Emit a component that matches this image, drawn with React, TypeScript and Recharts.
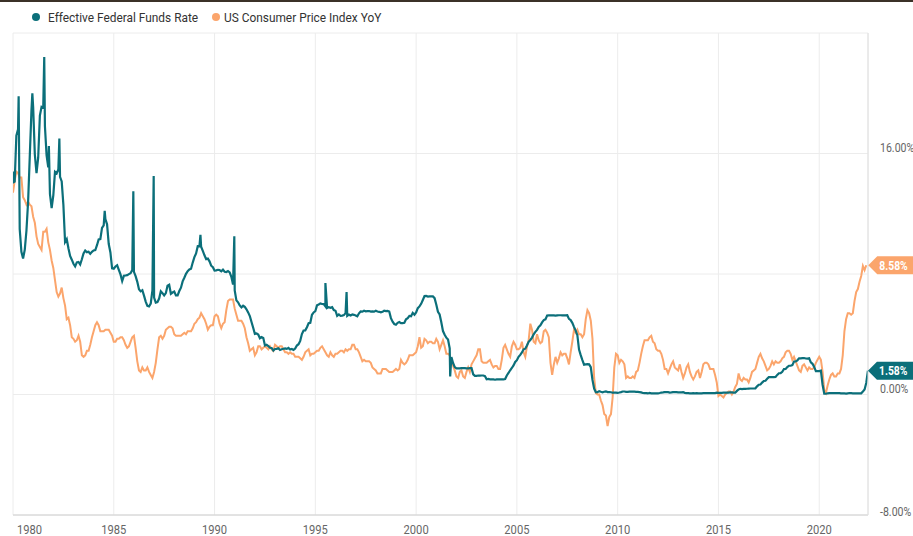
import React from 'react';
import { LineChart, Line, XAxis, YAxis, CartesianGrid } from 'recharts';

// Monthly effective federal funds rate (%), Jan 1980 .. Jun 2022
const fedFunds80s = [
  14.8, 14.13, 17.19, 17.61, 10.98, 9.47, 9.03, 9.61, 10.87, 12.81, 15.85, 18.9,
  19.08, 15.93, 14.7, 15.72, 18.52, 19.1, 19.04, 17.82, 15.87, 15.08, 13.31, 12.37,
  13.22, 14.78, 14.68, 14.94, 14.45, 14.15, 12.59, 10.12, 10.31, 9.71, 9.2, 8.95,
  8.68, 8.51, 8.77, 8.8, 8.63, 8.98, 9.37, 9.56, 9.45, 9.48, 9.34, 9.47,
  9.56, 9.59, 9.91, 10.29, 10.32, 11.06, 11.23, 11.64, 11.3, 9.99, 9.43, 8.38,
  8.35, 8.5, 8.58, 8.27, 7.97, 7.53, 7.88, 7.9, 7.92, 7.99, 8.05, 8.27,
  8.14, 7.86, 7.48, 6.99, 6.85, 6.92, 6.56, 6.17, 5.89, 5.85, 6.04, 6.91,
  6.43, 6.1, 6.13, 6.37, 6.85, 6.73, 6.58, 6.73, 7.22, 7.29, 6.69, 6.77,
  6.83, 6.58, 6.58, 6.87, 7.09, 7.51, 7.75, 8.01, 8.19, 8.3, 8.35, 8.76,
  9.12, 9.36, 9.85, 9.84, 9.81, 9.53, 9.24, 8.99, 9.02, 8.84, 8.55, 8.45,
];
const fedFunds90s = [
  8.23, 8.24, 8.28, 8.26, 8.18, 8.29, 8.15, 8.13, 8.2, 8.11, 7.81, 7.31,
  6.91, 6.25, 6.12, 5.91, 5.78, 5.9, 5.82, 5.66, 5.45, 5.21, 4.81, 4.43,
  4.03, 4.06, 3.98, 3.73, 3.82, 3.76, 3.25, 3.3, 3.22, 3.1, 3.09, 2.92,
  3.02, 3.03, 3.07, 2.96, 3.0, 3.04, 3.06, 3.03, 3.09, 2.99, 3.02, 2.96,
  3.05, 3.25, 3.34, 3.56, 4.01, 4.25, 4.26, 4.47, 4.73, 4.76, 5.29, 5.45,
  5.53, 5.92, 5.98, 6.05, 6.01, 6.0, 5.85, 5.74, 5.8, 5.76, 5.8, 5.6,
  5.56, 5.22, 5.31, 5.22, 5.24, 5.27, 5.4, 5.22, 5.3, 5.24, 5.31, 5.29,
  5.25, 5.19, 5.39, 5.51, 5.5, 5.56, 5.52, 5.54, 5.54, 5.5, 5.52, 5.5,
  5.56, 5.51, 5.49, 5.45, 5.49, 5.56, 5.54, 5.55, 5.51, 5.07, 4.83, 4.68,
  4.63, 4.76, 4.81, 4.74, 4.74, 4.76, 4.99, 5.07, 5.22, 5.2, 5.42, 5.3,
];
const fedFunds00s = [
  5.45, 5.73, 5.85, 6.02, 6.27, 6.53, 6.54, 6.5, 6.52, 6.51, 6.51, 6.4,
  5.98, 5.49, 5.31, 4.8, 4.21, 3.97, 3.77, 3.65, 3.07, 2.49, 2.09, 1.82,
  1.73, 1.74, 1.73, 1.75, 1.75, 1.75, 1.73, 1.74, 1.75, 1.75, 1.34, 1.24,
  1.24, 1.26, 1.25, 1.26, 1.26, 1.22, 1.01, 1.03, 1.01, 1.01, 1.0, 0.98,
  1.0, 1.01, 1.0, 1.0, 1.0, 1.03, 1.26, 1.43, 1.61, 1.76, 1.93, 2.16,
  2.28, 2.5, 2.63, 2.79, 3.0, 3.04, 3.26, 3.5, 3.62, 3.78, 4.0, 4.16,
  4.29, 4.49, 4.59, 4.79, 4.94, 4.99, 5.24, 5.25, 5.25, 5.25, 5.25, 5.24,
  5.25, 5.26, 5.26, 5.25, 5.25, 5.25, 5.26, 5.02, 4.94, 4.76, 4.49, 4.24,
  3.94, 2.98, 2.61, 2.28, 1.98, 2.0, 2.01, 2.0, 1.81, 0.97, 0.39, 0.16,
  0.15, 0.22, 0.18, 0.15, 0.18, 0.21, 0.16, 0.16, 0.15, 0.12, 0.12, 0.12,
];
const fedFunds10s = [
  0.11, 0.13, 0.16, 0.2, 0.2, 0.18, 0.18, 0.19, 0.19, 0.19, 0.19, 0.18,
  0.17, 0.16, 0.14, 0.1, 0.09, 0.09, 0.07, 0.1, 0.08, 0.07, 0.08, 0.07,
  0.08, 0.1, 0.13, 0.14, 0.16, 0.16, 0.16, 0.13, 0.14, 0.16, 0.16, 0.16,
  0.14, 0.15, 0.14, 0.15, 0.11, 0.09, 0.09, 0.08, 0.08, 0.09, 0.08, 0.09,
  0.07, 0.07, 0.08, 0.09, 0.09, 0.1, 0.09, 0.09, 0.09, 0.09, 0.09, 0.12,
  0.11, 0.11, 0.11, 0.12, 0.12, 0.13, 0.13, 0.14, 0.14, 0.12, 0.12, 0.24,
  0.34, 0.38, 0.36, 0.37, 0.37, 0.38, 0.39, 0.4, 0.4, 0.4, 0.41, 0.54,
  0.65, 0.66, 0.79, 0.9, 0.91, 1.04, 1.15, 1.16, 1.15, 1.15, 1.16, 1.3,
  1.41, 1.42, 1.51, 1.69, 1.7, 1.82, 1.91, 1.91, 1.95, 2.19, 2.2, 2.27,
  2.4, 2.4, 2.41, 2.42, 2.39, 2.38, 2.4, 2.13, 2.04, 1.83, 1.55, 1.55,
];
const fedFunds20s = [
  1.55, 1.58, 0.65, 0.05, 0.05, 0.08, 0.09, 0.1, 0.09, 0.09, 0.09, 0.09,
  0.09, 0.08, 0.07, 0.07, 0.06, 0.08, 0.1, 0.09, 0.08, 0.08, 0.08, 0.08,
  0.08, 0.08, 0.2, 0.33, 0.77, 1.58,
];

// Daily highs that show up as spikes on the chart
const fedSpikeDates = [1980.04, 1980.28, 1980.96, 1981.55, 1981.78, 1982.3, 1984.55, 1985.97, 1986.98, 1989.3, 1990.98, 1995.5, 1996.55, 2001.69];
const fedSpikeValues = [14.1, 19.8, 20.0, 22.4, 16.5, 17.0, 12.2, 13.5, 14.5, 10.6, 10.5, 7.4, 6.8, 1.2];

// US CPI year-over-year (%), Jan 1980 .. May 2022
const cpi80s = [
  13.4, 14.2, 14.8, 14.7, 14.4, 14.4, 13.1, 12.9, 12.6, 12.8, 12.6, 12.5,
  11.8, 11.4, 10.5, 10.0, 9.8, 9.6, 10.8, 10.8, 11.0, 10.1, 9.6, 8.9,
  8.4, 7.6, 6.8, 6.5, 6.7, 7.1, 6.4, 5.9, 5.0, 5.1, 4.6, 3.8,
  3.7, 3.5, 3.6, 3.9, 3.5, 2.6, 2.5, 2.6, 2.9, 2.9, 3.3, 3.8,
  4.2, 4.6, 4.8, 4.6, 4.2, 4.2, 4.2, 4.3, 4.3, 4.3, 4.1, 3.9,
  3.5, 3.5, 3.7, 3.7, 3.8, 3.8, 3.6, 3.3, 3.1, 3.2, 3.5, 3.8,
  3.9, 3.1, 2.2, 1.6, 1.5, 1.8, 1.6, 1.6, 1.8, 1.5, 1.3, 1.1,
  1.5, 2.1, 3.0, 3.8, 3.9, 3.7, 3.9, 4.3, 4.4, 4.5, 4.5, 4.4,
  4.0, 3.9, 3.9, 3.9, 3.9, 4.0, 4.1, 4.0, 4.2, 4.2, 4.2, 4.4,
  4.7, 4.8, 5.0, 5.1, 5.4, 5.2, 5.0, 4.7, 4.3, 4.5, 4.6, 4.6,
];
const cpi90s = [
  5.2, 5.3, 5.2, 4.7, 4.4, 4.7, 4.8, 5.6, 6.2, 6.3, 6.3, 6.3,
  5.7, 5.3, 4.9, 4.9, 4.9, 4.7, 4.4, 3.8, 3.4, 2.9, 3.0, 3.1,
  2.6, 2.8, 3.2, 3.2, 3.0, 3.1, 3.2, 3.1, 3.0, 3.2, 3.0, 2.9,
  3.3, 3.2, 3.1, 3.2, 3.2, 3.0, 2.8, 2.8, 2.7, 2.8, 2.7, 2.7,
  2.5, 2.5, 2.5, 2.4, 2.3, 2.5, 2.8, 2.9, 3.0, 2.6, 2.7, 2.7,
  2.8, 2.9, 2.9, 3.1, 3.2, 3.0, 2.8, 2.6, 2.5, 2.8, 2.6, 2.5,
  2.7, 2.7, 2.8, 2.9, 2.9, 2.8, 3.0, 2.9, 3.0, 3.0, 3.3, 3.3,
  3.0, 3.0, 2.8, 2.5, 2.2, 2.3, 2.2, 2.2, 2.2, 2.1, 1.8, 1.7,
  1.6, 1.4, 1.4, 1.4, 1.7, 1.7, 1.7, 1.6, 1.5, 1.5, 1.5, 1.6,
  1.7, 1.6, 1.7, 2.3, 2.1, 2.0, 2.1, 2.3, 2.6, 2.6, 2.6, 2.7,
];
const cpi00s = [
  2.8, 3.2, 3.8, 3.1, 3.2, 3.7, 3.6, 3.4, 3.5, 3.5, 3.4, 3.4,
  3.7, 3.5, 3.0, 3.3, 3.6, 3.2, 2.7, 2.7, 2.6, 2.1, 1.9, 1.6,
  1.2, 1.1, 1.5, 1.6, 1.2, 1.1, 1.5, 1.8, 1.5, 2.0, 2.2, 2.4,
  2.6, 3.0, 3.0, 2.2, 2.1, 2.1, 2.1, 2.2, 2.3, 2.0, 1.8, 1.9,
  1.9, 1.7, 1.7, 2.3, 3.1, 3.3, 3.0, 2.7, 2.5, 3.2, 3.5, 3.3,
  3.0, 3.0, 3.1, 3.5, 2.8, 2.5, 3.2, 3.6, 4.7, 4.3, 3.5, 3.4,
  4.0, 3.6, 3.4, 3.5, 4.2, 4.3, 4.1, 3.8, 2.1, 1.3, 2.0, 2.5,
  2.1, 2.4, 2.8, 2.6, 2.7, 2.7, 2.4, 2.0, 2.8, 3.5, 4.3, 4.1,
  4.3, 4.0, 4.0, 3.8, 4.0, 5.0, 5.6, 5.4, 4.9, 3.7, 1.1, 0.1,
  0.0, 0.0, -0.4, -0.7, -1.3, -1.4, -2.1, -1.5, -1.3, -0.2, 1.8, 2.7,
];
const cpi10s = [
  2.6, 2.1, 2.3, 2.2, 2.0, 1.1, 1.2, 1.1, 1.1, 1.2, 1.1, 1.5,
  1.6, 2.1, 2.7, 3.2, 3.6, 3.6, 3.6, 3.8, 3.9, 3.5, 3.4, 3.0,
  2.9, 2.9, 2.7, 2.3, 1.7, 1.7, 1.4, 1.7, 2.0, 2.2, 1.8, 1.7,
  1.6, 2.0, 1.5, 1.1, 1.4, 1.8, 2.0, 1.5, 1.2, 1.0, 1.2, 1.5,
  1.6, 1.1, 1.5, 2.0, 2.1, 2.1, 2.0, 1.7, 1.7, 1.7, 1.3, 0.8,
  -0.1, 0.0, -0.1, -0.2, 0.0, 0.1, 0.2, 0.2, 0.0, 0.2, 0.5, 0.7,
  1.4, 1.0, 0.9, 1.1, 1.0, 1.0, 0.8, 1.1, 1.5, 1.6, 1.7, 2.1,
  2.5, 2.7, 2.4, 2.2, 1.9, 1.6, 1.7, 1.9, 2.2, 2.0, 2.2, 2.1,
  2.1, 2.2, 2.4, 2.5, 2.8, 2.9, 2.9, 2.7, 2.3, 2.5, 2.2, 1.9,
  1.6, 1.5, 1.9, 2.0, 1.8, 1.6, 1.8, 1.7, 1.7, 1.8, 2.1, 2.3,
];
const cpi20s = [
  2.5, 2.3, 1.5, 0.3, 0.1, 0.6, 1.0, 1.3, 1.4, 1.2, 1.2, 1.4,
  1.4, 1.7, 2.6, 4.2, 5.0, 5.4, 5.4, 5.3, 5.4, 6.2, 6.8, 7.0,
  7.48, 7.87, 8.54, 8.26, 8.58,
];

const yTicks = [-8, 0, 8, 16, 24];
const xTicks = [1980, 1985, 1990, 1995, 2000, 2005, 2010, 2015, 2020];

const TEAL = '#0b6f7a';
const ORANGE = '#fba56c';
const FONT = 'Roboto, sans-serif';
const SQUEEZE = 0.86; // the original uses a condensed face

const fedFunds = [...fedFunds80s, ...fedFunds90s, ...fedFunds00s, ...fedFunds10s, ...fedFunds20s];
const cpiYoY = [...cpi80s, ...cpi90s, ...cpi00s, ...cpi10s, ...cpi20s];

type Row = { t: number; fed: number | null; cpi: number | null };

const rows: Row[] = fedFunds.map((v, i) => ({
  t: 1980 + i / 12,
  fed: v,
  cpi: i < cpiYoY.length ? cpiYoY[i] : null,
}));
fedSpikeDates.forEach((t, i) => rows.push({ t, fed: fedSpikeValues[i], cpi: null }));
rows.sort((a, b) => a.t - b.t);

const lastFedIdx = rows.map((r) => r.fed !== null).lastIndexOf(true);
const lastCpiIdx = rows.map((r) => r.cpi !== null).lastIndexOf(true);

const pct = (v: number) => `${v.toFixed(2)}%`;

const NarrowText = ({ x, y, children, anchor = 'start', squeeze = SQUEEZE, ...rest }: any) => (
  <g transform={`translate(${x},${y}) scale(${squeeze},1)`}>
    <text x={0} y={0} textAnchor={anchor} fontFamily={FONT} {...rest}>
      {children}
    </text>
  </g>
);

// price tag on the right edge for the latest value
const endTag = (color: string, lastIdx: number, tipShift: number) => (props: any) => {
  const { x, y, value, index } = props;
  if (index !== lastIdx) return null;
  const tx = x + tipShift;
  return (
    <g>
      <polygon
        points={`${tx},${y} ${tx + 9},${y - 9} ${tx + 50},${y - 9} ${tx + 50},${y + 9} ${tx + 9},${y + 9}`}
        fill={color}
      />
      <NarrowText x={tx + 11} y={y + 4.5} fill="#fff" fontSize={12.5} fontWeight={700} squeeze={0.83}>
        {pct(Number(value))}
      </NarrowText>
    </g>
  );
};

const YTick = (props: any) => {
  const { x, y, payload } = props;
  const v = payload.value;
  if (v === 8 || v === 24) return null;
  return (
    <NarrowText x={x + 4} y={y + (v === -8 ? 1 : -2)} fill="#666" fontSize={12} squeeze={0.88}>
      {pct(v)}
    </NarrowText>
  );
};

const XTick = (props: any) => {
  const { x, y, payload } = props;
  const first = payload.value === 1980;
  return (
    <NarrowText x={first ? x + 4 : x} y={y + 11} fill="#666" fontSize={13} anchor={first ? 'start' : 'middle'}>
      {payload.value}
    </NarrowText>
  );
};

const legendText: React.CSSProperties = {
  display: 'inline-block',
  transform: 'scaleX(0.88)',
  transformOrigin: 'left center',
  whiteSpace: 'nowrap',
};

export default function App() {
  return (
    <div style={{ position: 'relative', width: 913, height: 536, background: '#fff', fontFamily: FONT }}>
      <style>{'body{margin:0}'}</style>
      <div style={{ position: 'absolute', top: 0, left: 0, width: 913, height: 2, background: '#3b3128' }} />
      <div style={{ position: 'absolute', top: 9, left: 32, height: 16, fontSize: 13.5, color: '#333' }}>
        <span style={{ position: 'absolute', left: 0, top: 4, width: 8, height: 8, borderRadius: 4, background: TEAL }} />
        <span style={{ ...legendText, position: 'absolute', left: 16, top: 0 }}>Effective Federal Funds Rate</span>
        <span style={{ position: 'absolute', left: 180, top: 4, width: 8, height: 8, borderRadius: 4, background: ORANGE }} />
        <span style={{ ...legendText, position: 'absolute', left: 192, top: 0 }}>US Consumer Price Index YoY</span>
      </div>
      <LineChart width={913} height={536} data={rows} margin={{ top: 33, right: 0, bottom: 0, left: 13 }}>
        <CartesianGrid stroke="#ececec" ticks={yTicks} />
        <XAxis
          dataKey="t"
          type="number"
          domain={[1980, 2022.42]}
          ticks={xTicks}
          interval={0}
          height={21}
          stroke="#d0d0d0"
          tickLine={false}
          tick={<XTick />}
          allowDataOverflow
        />
        <YAxis
          orientation="right"
          type="number"
          domain={[-8, 24]}
          ticks={yTicks}
          interval={0}
          width={45}
          axisLine={{ stroke: '#e0e0e0' }}
          tickLine={false}
          tick={<YTick />}
        />
        <Line
          dataKey="cpi"
          stroke={ORANGE}
          strokeWidth={2}
          dot={false}
          connectNulls
          isAnimationActive={false}
          label={endTag(ORANGE, lastCpiIdx, 2)}
        />
        <Line
          dataKey="fed"
          stroke={TEAL}
          strokeWidth={2.2}
          dot={false}
          connectNulls
          isAnimationActive={false}
          label={endTag(TEAL, lastFedIdx, 0)}
        />
      </LineChart>
    </div>
  );
}
